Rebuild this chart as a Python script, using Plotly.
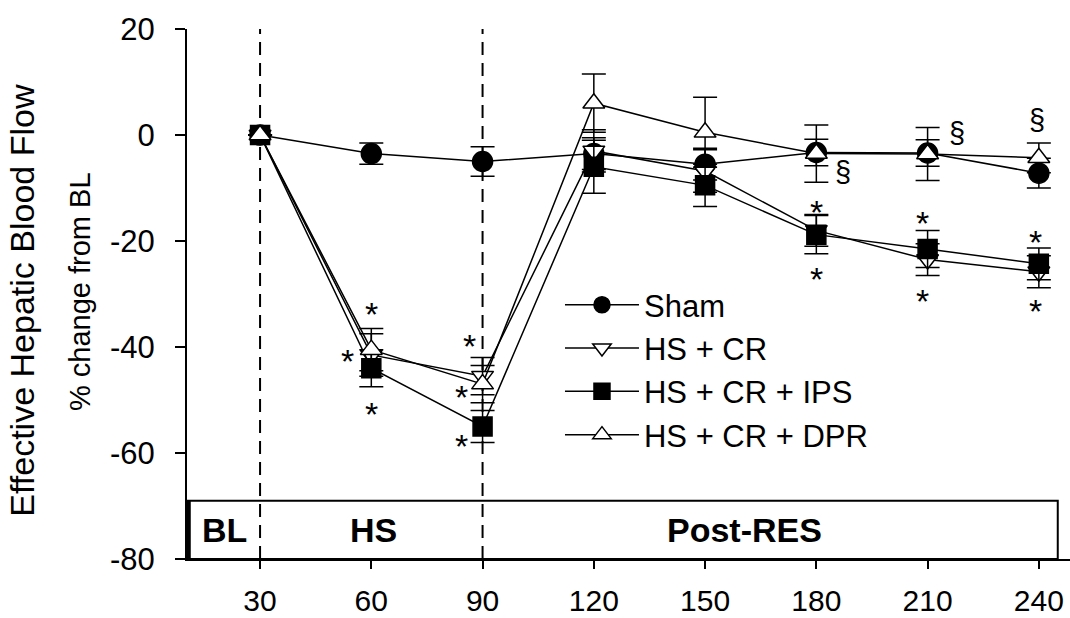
import plotly.graph_objects as go

minutes = [30, 60, 90, 120, 150, 180, 210, 240]

sham = [0, -3.5, -5.0, -3.5, -5.5, -3.3, -3.4, -7.2]
sham_se = [0, 2.0, 2.8, 3.0, 3.0, 2.5, 2.5, 2.8]

hs_cr = [0, -41.5, -45.5, -3.0, -6.8, -18.0, -23.5, -25.8]
hs_cr_se = [0, 4.0, 3.5, 4.0, 4.0, 3.0, 3.0, 3.0]

hs_cr_ips = [0, -44.0, -55.0, -6.0, -9.5, -18.8, -21.5, -24.3]
hs_cr_ips_se = [0, 3.5, 3.0, 5.0, 4.0, 3.6, 3.5, 3.0]

hs_cr_dpr = [0, -40.5, -47.0, 6.0, 0.5, -3.5, -3.6, -4.3]
hs_cr_dpr_se = [0, 4.0, 3.5, 5.5, 6.6, 5.4, 5.0, 2.8]

series_names = ["Sham", "HS + CR", "HS + CR + IPS", "HS + CR + DPR"]

y_tick_vals = [-80, -60, -40, -20, 0, 20]
y_tick_text = ["-80", "-60", "-40", "-20", "0", "20"]

# significance marks
star_x = [60, 53.5, 60, 86.5, 84.3, 84.3, 180, 180, 208.5, 208.5, 239.2, 239.2]
star_y = [-32.1, -40.9, -51.0, -38.1, -47.7, -57.0, -12.8, -25.5, -14.9, -29.6, -18.5, -31.5]
sect_x = [187.1, 218.0, 239.4]
sect_y = [-7.0, 0.4, 2.8]

phase_labels = ["BL", "HS", "Post-RES"]
phase_x = [20.4, 60.5, 160.7]
phase_bounds = [30, 90]

FONT = "Liberation Sans, Arial, sans-serif"

fig = go.Figure()

styles = [
    dict(symbol="circle", size=20, color="black", line=dict(color="black", width=1.5)),
    dict(symbol="triangle-down", size=19, color="white", line=dict(color="black", width=1.5)),
    dict(symbol="square", size=19, color="black", line=dict(color="black", width=1.5)),
    dict(symbol="triangle-up", size=19, color="white", line=dict(color="black", width=1.5)),
]
values = [sham, hs_cr, hs_cr_ips, hs_cr_dpr]
errors = [sham_se, hs_cr_se, hs_cr_ips_se, hs_cr_dpr_se]

for name, v, e, st in zip(series_names, values, errors, styles):
    fig.add_trace(go.Scatter(
        x=minutes, y=v, name=name, mode="lines+markers",
        line=dict(color="black", width=1.5),
        marker=st,
        error_y=dict(type="data", array=e, visible=True, color="black",
                     thickness=1.5, width=12),
    ))

shapes = []
for b in phase_bounds:
    shapes.append(dict(type="line", xref="x", yref="y", x0=b, x1=b, y0=-80, y1=20,
                       line=dict(color="black", width=2, dash="13px,8px"), layer="below"))
shapes.append(dict(type="rect", xref="x", yref="y", x0=10.3, x1=245.1, y0=-80, y1=-69,
                   line=dict(color="black", width=2), fillcolor="rgba(0,0,0,0)", layer="below"))
shapes.append(dict(type="line", xref="x domain", yref="y", x0=0.002, x1=0.002, y0=-80, y1=-69,
                   line=dict(color="black", width=4)))

annotations = []
for x, y in zip(star_x, star_y):
    annotations.append(dict(x=x, y=y, xref="x", yref="y", text="*", showarrow=False,
                            font=dict(family=FONT, size=34, color="black"), yshift=-9))
for x, y in zip(sect_x, sect_y):
    annotations.append(dict(x=x, y=y, xref="x", yref="y", text="§", showarrow=False,
                            font=dict(family=FONT, size=29, color="black")))
for t, x in zip(phase_labels, phase_x):
    annotations.append(dict(x=x, y=-74.5, xref="x", yref="y", text="<b>%s</b>" % t, showarrow=False,
                            font=dict(family="Liberation Sans Narrow, Arial Narrow, Liberation Sans", size=34, color="black")))
annotations.append(dict(x=-0.187, y=0.489, xref="paper", yref="paper", text="Effective Hepatic Blood Flow",
                        xanchor="center", yanchor="middle",
                        textangle=-90, showarrow=False, font=dict(family=FONT, size=34, color="black")))
annotations.append(dict(x=-0.121, y=0.504, xref="paper", yref="paper", text="% change from BL",
                        xanchor="center", yanchor="middle",
                        textangle=-90, showarrow=False, font=dict(family=FONT, size=29, color="black")))

fig.update_layout(
    width=1070, height=618,
    margin=dict(l=187, r=0, t=29, b=59),
    paper_bgcolor="white", plot_bgcolor="white",
    shapes=shapes, annotations=annotations,
    showlegend=True,
    legend=dict(x=0.4224, y=0.53, xanchor="left", yanchor="top",
                font=dict(family=FONT, size=31, color="black"),
                bgcolor="rgba(0,0,0,0)", tracegroupgap=0, itemwidth=74),
    xaxis=dict(range=[10.3, 248.4], tickvals=minutes, ticks="outside", ticklen=8, tickwidth=2,
               tickcolor="black", showline=True, linecolor="black", linewidth=2,
               showgrid=False, zeroline=False, ticklabelstandoff=6,
               tickfont=dict(family=FONT, size=30, color="black")),
    yaxis=dict(range=[-80, 20], tickvals=y_tick_vals, ticktext=y_tick_text, ticks="outside", ticklen=10,
               tickwidth=2, tickcolor="black", showline=True, linecolor="black", linewidth=2,
               showgrid=False, zeroline=False, ticklabelstandoff=14,
               tickfont=dict(family=FONT, size=31, color="black")),
)

fig.write_html("out.html", post_script="document.body.style.margin='0';",
               config={"displayModeBar": False})
